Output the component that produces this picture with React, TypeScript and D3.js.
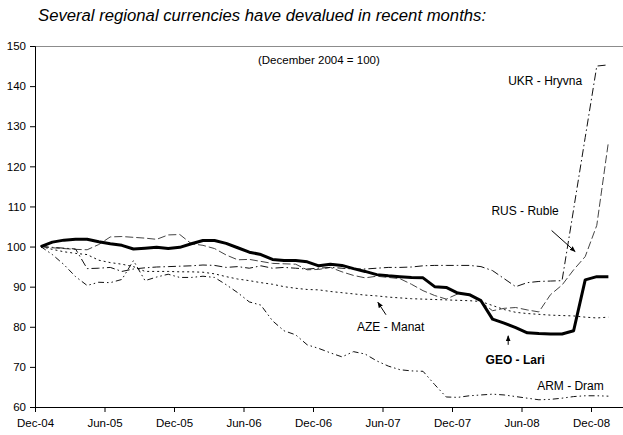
import { useEffect, useRef } from 'react';
import * as d3 from 'd3';

// Monthly index values, Dec-04 .. Jan-09 (December 2004 = 100)
const geoLari = [
  100, 101.1, 101.6, 101.8, 101.8, 101.2, 100.7, 100.3, 99.4, 99.6,
  99.8, 99.5, 99.8, 100.7, 101.5, 101.5, 100.8, 99.7, 98.6, 98.0,
  96.8, 96.5, 96.5, 96.2, 95.2, 95.6, 95.3, 94.5, 93.8, 93.0,
  92.7, 92.5, 92.3, 92.2, 90.0, 89.8, 88.4, 88.0, 86.5, 81.9,
  80.9, 79.8, 78.5, 78.3, 78.2, 78.2, 79.0, 91.7, 92.5, 92.5,
];
const ukrHryvna = [
  100, 99.8, 99.6, 99.4, 94.5, 94.6, 94.8, 93.8, 94.4, 94.7,
  94.9, 95.0, 95.1, 95.2, 95.4, 95.3, 94.8, 95.0, 94.6, 95.2,
  94.6, 94.8, 94.6, 94.4, 94.6, 94.8, 94.6, 94.4, 94.4, 94.6,
  94.8, 94.8, 94.9, 95.2, 95.3, 95.3, 95.3, 95.3, 95.0, 94.0,
  92.0, 90.0, 91.0, 91.3, 91.4, 91.5, 109.3, 127.2, 145.0, 145.3,
];
const rusRuble = [
  100, 99.7, 99.5, 99.3, 99.2, 100.5, 102.4, 102.5, 102.3, 102.1,
  101.8, 102.9, 103.0, 100.7, 100.3, 99.5, 97.9, 96.7, 96.8, 96.3,
  95.8, 95.7, 95.6, 94.2, 94.3, 94.8, 93.7, 92.8, 92.2, 92.6,
  92.3, 92.0, 90.6, 89.0, 87.8, 86.9, 88.2, 88.2, 86.2, 84.0,
  84.6, 84.8, 84.2, 83.7, 88.0, 90.4, 94.2, 97.5, 105.3, 126.0,
];
const azeManat = [
  100, 99.3, 98.7, 98.3, 98.0, 96.6, 96.0, 95.6, 95.0, 93.8,
  93.8, 93.8, 93.7, 93.7, 93.6, 93.2, 92.5, 91.9, 91.5, 91.0,
  90.6, 90.0, 89.6, 89.3, 89.2, 88.8, 88.5, 88.2, 87.9, 87.7,
  87.4, 87.2, 87.0, 86.9, 86.8, 86.7, 86.6, 86.5, 86.3, 85.3,
  84.3, 83.6, 83.3, 83.1, 82.9, 82.8, 82.7, 82.4, 82.2, 82.4,
];
const armDram = [
  100, 98.0, 95.5, 92.5, 90.3, 91.1, 91.0, 91.8, 96.5, 91.5,
  92.4, 93.1, 92.3, 92.3, 92.6, 92.3, 90.5, 88.5, 86.2, 85.4,
  81.5, 79.0, 78.0, 75.5, 74.6, 73.5, 72.5, 73.8, 73.2, 71.5,
  70.2, 69.3, 69.0, 68.9, 65.6, 62.5, 62.4, 62.8, 63.0, 63.2,
  63.0, 62.6, 62.2, 61.8, 61.9, 62.2, 62.6, 62.8, 62.8, 62.7,
];

const xTickLabels = ['Dec-04', 'Jun-05', 'Dec-05', 'Jun-06', 'Dec-06', 'Jun-07', 'Dec-07', 'Jun-08', 'Dec-08'];
const yTicks = [60, 70, 80, 90, 100, 110, 120, 130, 140, 150];

const seriesList = [
  { name: 'AZE', values: azeManat, color: '#111', width: 1, dash: '2,3' },
  { name: 'ARM', values: armDram, color: '#111', width: 1, dash: '6,3,1.5,3,1.5,3' },
  { name: 'RUS', values: rusRuble, color: '#444', width: 1, dash: '8,3' },
  { name: 'UKR', values: ukrHryvna, color: '#111', width: 1, dash: '8,3,1.5,3' },
  { name: 'GEO', values: geoLari, color: '#000', width: 3, dash: null },
];

// annotation positions in (months since Dec-04, index value)
const labels = [
  { text: 'UKR - Hryvna', m: 40.85, v: 140.25, bold: false },
  { text: 'RUS - Ruble', m: 39.4, v: 107.75, bold: false },
  { text: 'AZE - Manat', m: 27.8, v: 79, bold: false },
  { text: 'GEO - Lari', m: 38.9, v: 70.75, bold: true },
  { text: 'ARM - Dram', m: 43.35, v: 64.25, bold: false },
];
const arrows = [
  { m1: 44.6, v1: 104, m2: 46.63, v2: 98.75 },
  { m1: 30.3, v1: 83, m2: 29.6, v2: 86.1 },
  { m1: 40.85, v1: 75.5, m2: 40.85, v2: 77.75 },
];

const App = () => {
  const svgRef = useRef(null);
  const width = 623;
  const height = 435;

  useEffect(() => {
    document.body.style.margin = '0';
    const root = d3.select(svgRef.current);
    root.selectAll('*').remove();

    const svg = root
      .attr('width', width)
      .attr('height', height)
      .style('display', 'block')
      .style('font-family', 'Arial, "Liberation Sans", sans-serif');

    const left = 35;
    const top = 46;
    const bottom = 407;
    const monthPx = 69.5 / 6;

    const x = d3.scaleLinear().domain([0, (width - left) / monthPx]).range([left, width]);
    const y = d3.scaleLinear().domain([60, 150]).range([bottom, top]);

    // Title
    svg.append('text')
      .attr('x', 38)
      .attr('y', 21)
      .style('font-size', '16.7px')
      .style('font-style', 'italic')
      .style('fill', '#000')
      .text('Several regional currencies have devalued in recent months:');

    // Top border
    svg.append('line')
      .attr('x1', left).attr('x2', width)
      .attr('y1', top + 0.5).attr('y2', top + 0.5)
      .attr('stroke', '#8c8c8c')
      .attr('stroke-width', 1);

    // Y axis
    const yAxis = svg.append('g')
      .attr('transform', `translate(${left}, 0)`)
      .call(d3.axisLeft(y).tickValues(yTicks).tickSize(5).tickPadding(4));
    yAxis.select('.domain').attr('stroke', '#000');
    yAxis.selectAll('line').attr('stroke', '#000');
    yAxis.selectAll('text')
      .style('font-size', '11.5px')
      .style('font-family', 'Arial, "Liberation Sans", sans-serif')
      .style('fill', '#000');

    // X axis
    const xAxis = svg.append('g')
      .attr('transform', `translate(0, ${bottom})`)
      .call(
        d3.axisBottom(x)
          .tickValues(xTickLabels.map((_, i) => i * 6))
          .tickFormat((_, i) => xTickLabels[i])
          .tickSize(5)
          .tickSizeOuter(0)
          .tickPadding(7)
      );
    xAxis.select('.domain').attr('stroke', '#000');
    xAxis.selectAll('line').attr('stroke', '#000');
    xAxis.selectAll('text')
      .style('font-size', '11.5px')
      .style('font-family', 'Arial, "Liberation Sans", sans-serif')
      .style('fill', '#000');

    // Base note
    svg.append('text')
      .attr('x', x(19.25))
      .attr('y', y(145.6))
      .style('font-size', '11.5px')
      .style('fill', '#000')
      .text('(December 2004 = 100)');

    // Lines
    const line = d3.line()
      .x((d, i) => x(i + 0.5))
      .y(d => y(d));

    seriesList.forEach(s => {
      const path = svg.append('path')
        .datum(s.values)
        .attr('fill', 'none')
        .attr('stroke', s.color)
        .attr('stroke-width', s.width)
        .attr('stroke-linejoin', 'round')
        .attr('d', line);
      if (s.dash) path.attr('stroke-dasharray', s.dash);
    });

    // Arrowhead
    svg.append('defs')
      .append('marker')
      .attr('id', 'arrowhead')
      .attr('viewBox', '0 0 10 10')
      .attr('refX', 9)
      .attr('refY', 5)
      .attr('markerWidth', 6)
      .attr('markerHeight', 6)
      .attr('orient', 'auto')
      .append('path')
      .attr('d', 'M0,1 L10,5 L0,9 Z')
      .attr('fill', '#000');

    svg.selectAll('.arrow')
      .data(arrows)
      .enter()
      .append('line')
      .attr('class', 'arrow')
      .attr('x1', d => x(d.m1))
      .attr('y1', d => y(d.v1))
      .attr('x2', d => x(d.m2))
      .attr('y2', d => y(d.v2))
      .attr('stroke', '#000')
      .attr('stroke-width', 1)
      .attr('marker-end', 'url(#arrowhead)');

    // Series labels
    svg.selectAll('.series-label')
      .data(labels)
      .enter()
      .append('text')
      .attr('class', 'series-label')
      .attr('x', d => x(d.m))
      .attr('y', d => y(d.v))
      .style('font-size', '12px')
      .style('font-weight', d => (d.bold ? 'bold' : 'normal'))
      .style('fill', '#000')
      .text(d => d.text);
  }, []);

  return (
    <div>
      <svg ref={svgRef}></svg>
    </div>
  );
};

export default App;
